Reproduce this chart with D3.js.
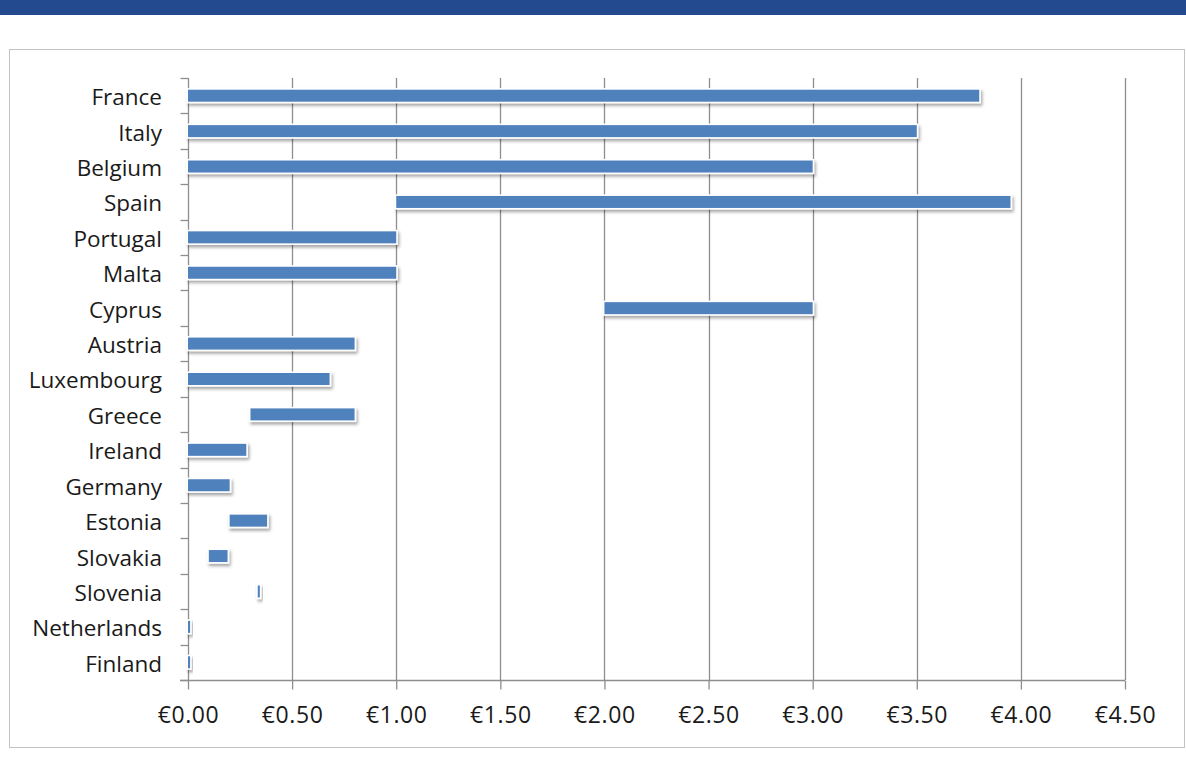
<!DOCTYPE html>
<html>
<head>
<meta charset="utf-8">
<script src="https://cdn.jsdelivr.net/npm/d3@7"></script>
<style>
  html, body { margin: 0; padding: 0; background: #ffffff; }
  svg { display: block; }
  text { font-family: "Open Sans", Lato, "Liberation Sans", sans-serif; fill: #1a1a1a; }
</style>
</head>
<body>
<svg id="chart" width="1186" height="776"></svg>
<script>
// Categories, top to bottom
const countries = ["France", "Italy", "Belgium", "Spain", "Portugal", "Malta", "Cyprus",
  "Austria", "Luxembourg", "Greece", "Ireland", "Germany", "Estonia", "Slovakia",
  "Slovenia", "Netherlands", "Finland"];
// Low end of each range (€)
const rangeLow = [0, 0, 0, 1.0, 0, 0, 2.0, 0, 0, 0.3, 0, 0, 0.2, 0.1, 0.335, 0, 0];
// High end of each range (€)
const rangeHigh = [3.8, 3.5, 3.0, 3.95, 1.0, 1.0, 3.0, 0.8, 0.68, 0.8, 0.28, 0.2, 0.38, 0.19, 0.345, 0.01, 0.01];
// X axis ticks (€)
const xTicks = [0, 0.5, 1.0, 1.5, 2.0, 2.5, 3.0, 3.5, 4.0, 4.5];

const svg = d3.select("#chart");

// Header band
svg.append("rect").attr("x", 0).attr("y", 0).attr("width", 1186).attr("height", 15)
  .attr("fill", "#234a8f");

// Chart frame
svg.append("rect").attr("x", 9.5).attr("y", 49.5).attr("width", 1175).attr("height", 698)
  .attr("fill", "#ffffff").attr("stroke", "#c3c3c3").attr("stroke-width", 1);

const defs = svg.append("defs");
const f = defs.append("filter").attr("id", "shadow")
  .attr("x", "-20%").attr("y", "-60%").attr("width", "140%").attr("height", "220%");
f.append("feDropShadow").attr("dx", 1.5).attr("dy", 2.5).attr("stdDeviation", 1.6)
  .attr("flood-color", "#000").attr("flood-opacity", 0.35);

const x = d3.scaleLinear().domain([0, 4.5]).range([188, 1125]);
const y = d3.scaleBand().domain(countries).range([78, 680]);

// Vertical gridlines
svg.append("g").selectAll("line").data(xTicks.slice(1)).join("line")
  .attr("x1", d => Math.round(x(d)) + 0.5).attr("x2", d => Math.round(x(d)) + 0.5)
  .attr("y1", 78).attr("y2", 680)
  .attr("stroke", "#8e8e8e").attr("stroke-width", 1.3);

// X axis
const xAxis = svg.append("g").attr("transform", "translate(0,680.5)")
  .call(d3.axisBottom(x).tickValues(xTicks).tickSize(9)
    .tickFormat(d => "€" + d3.format(".2f")(d)));
xAxis.select(".domain").remove();
xAxis.append("line").attr("x1", 180).attr("x2", 1125).attr("y1", 0).attr("y2", 0)
  .attr("stroke", "#8e8e8e").attr("stroke-width", 1.3);
xAxis.selectAll(".tick line").attr("stroke", "#8e8e8e").attr("stroke-width", 1.3);
xAxis.selectAll(".tick text").attr("font-size", 23).attr("fill", "#1a1a1a")
  .attr("y", 42.5).attr("dy", 0).attr("letter-spacing", 0.6)
  .style("font-family", "'Open Sans', Lato, sans-serif");

// Y axis with ticks at category boundaries
const yAxisG = svg.append("g").attr("transform", "translate(188.5,0)");
yAxisG.append("line").attr("x1", 0).attr("x2", 0).attr("y1", 78).attr("y2", 680)
  .attr("stroke", "#8e8e8e").attr("stroke-width", 1.3);
const bounds = countries.map(c => y(c)).concat([680]);
yAxisG.selectAll("line.tk").data(bounds).join("line").attr("class", "tk")
  .attr("x1", -8).attr("x2", 0)
  .attr("y1", d => Math.round(d) + 0.5).attr("y2", d => Math.round(d) + 0.5)
  .attr("stroke", "#8e8e8e").attr("stroke-width", 1.3);
svg.append("g").selectAll("text").data(countries).join("text")
  .attr("x", 162).attr("y", d => y(d) + y.bandwidth() / 2)
  .attr("dy", "0.42em").attr("text-anchor", "end").attr("font-size", 22.5)
  .text(d => d);

// Range bars: white outlined, shadowed backing with the blue fill on top
const barH = 12, pad = 1.6;
const bars = svg.append("g").selectAll("g").data(countries).join("g");
bars.append("rect")
  .attr("x", (d, i) => x(rangeLow[i]) - pad)
  .attr("y", d => y(d) + y.bandwidth() / 2 - barH / 2 - pad)
  .attr("width", (d, i) => x(rangeHigh[i]) - x(rangeLow[i]) + 2 * pad)
  .attr("height", barH + 2 * pad)
  .attr("fill", "#ffffff").attr("filter", "url(#shadow)");
bars.append("rect")
  .attr("x", (d, i) => x(rangeLow[i]))
  .attr("y", d => y(d) + y.bandwidth() / 2 - barH / 2)
  .attr("width", (d, i) => x(rangeHigh[i]) - x(rangeLow[i]))
  .attr("height", barH)
  .attr("fill", "#4f81bd");
</script>
</body>
</html>
